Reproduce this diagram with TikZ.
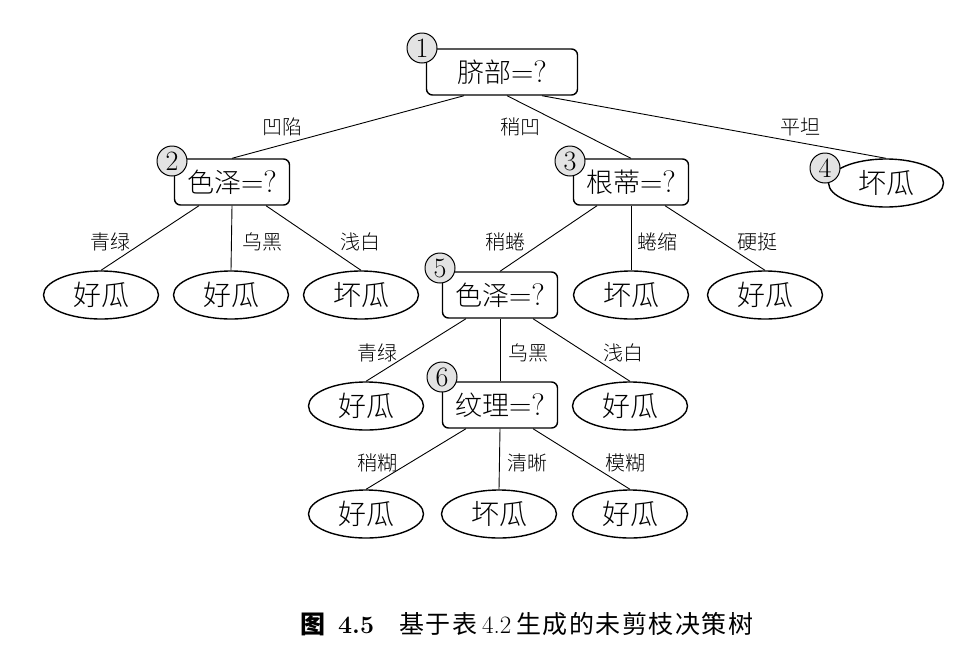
\documentclass[tikz,border=0pt]{standalone}
\usepackage{fontspec}
\IfFontExistsTF{Noto Sans CJK SC Light}
  {\newfontfamily\cjk{Noto Sans CJK SC Light}}
  {\newfontfamily\cjk{Noto Sans CJK SC}}
\newfontfamily\cjkreg{Noto Sans CJK SC}
\newfontfamily\cjkcap[LetterSpace=6]{Noto Sans CJK SC}
\usetikzlibrary{shapes.geometric}
\newcommand\eqq{{\fontsize{31}{31}\selectfont=?}}
\tikzset{
  testbox/.style={draw, line width=1.4pt, rounded corners=6pt, minimum width=115pt, minimum height=46pt, inner sep=0pt, font=\fontsize{27}{27}\selectfont},
  leaf/.style={draw, ellipse, line width=1.4pt, minimum width=115pt, minimum height=48pt, inner sep=0pt, font=\fontsize{28}{28}\selectfont\cjk},
  num/.style={circle, draw, fill=gray!22, line width=1pt, minimum size=30pt, inner sep=0pt, font=\fontsize{28}{28}\selectfont},
  edge/.style={line width=0.9pt},
  lbl/.style={font=\fontsize{20}{20}\selectfont\cjk, inner sep=0pt},
}
\begin{document}
\begin{tikzpicture}[x=1pt, y=-1pt]
\useasboundingbox (0,0) rectangle (957,667);
% nodes
\node[testbox, minimum width=151pt] (root) at (502,72) {{\cjk 脐部}\eqq};
\node[testbox] (b2) at (232,182) {{\cjk 色泽}\eqq};
\node[testbox] (b3) at (631,182) {{\cjk 根蒂}\eqq};
\node[leaf] (l4) at (886,183) {坏瓜};
\node[leaf] (l21) at (101,295) {好瓜};
\node[leaf] (l22) at (231,295) {好瓜};
\node[leaf] (l23) at (361,295) {坏瓜};
\node[testbox] (b5) at (500,295) {{\cjk 色泽}\eqq};
\node[leaf] (l31) at (631,295) {坏瓜};
\node[leaf] (l32) at (765,295) {好瓜};
\node[leaf] (l51) at (366,406) {好瓜};
\node[testbox] (b6) at (500,405) {{\cjk 纹理}\eqq};
\node[leaf] (l53) at (630,406) {好瓜};
\node[leaf] (l61) at (366,514) {好瓜};
\node[leaf] (l62) at (499,514) {坏瓜};
\node[leaf] (l63) at (630,514) {好瓜};
% number circles
\node[num] (n1) at (422,48) {1};
\node[num] (n2) at (172,161) {2};
\node[num] (n3) at (570,161) {3};
\node[num] (n4) at (825,168) {4};
\node[num] (n5) at (440,268) {5};
\node[num] (n6) at (442,377) {6};
% edges
\draw[edge] ([xshift=-38pt]root.south) -- (b2.north);
\draw[edge] ([xshift=5pt]root.south) -- (b3.north);
\draw[edge] ([xshift=40pt]root.south) -- (l4.north);
\draw[edge] ([xshift=-33pt]b2.south) -- (l21.north);
\draw[edge] (b2.south) -- (l22.north);
\draw[edge] ([xshift=34pt]b2.south) -- (l23.north);
\draw[edge] ([xshift=-34pt]b3.south) -- (b5.north);
\draw[edge] (b3.south) -- (l31.north);
\draw[edge] ([xshift=34pt]b3.south) -- (l32.north);
\draw[edge] ([xshift=-34pt]b5.south) -- (l51.north);
\draw[edge] (b5.south) -- (b6.north);
\draw[edge] ([xshift=33pt]b5.south) -- (l53.north);
\draw[edge] ([xshift=-34pt]b6.south) -- (l61.north);
\draw[edge] (b6.south) -- (l62.north);
\draw[edge] ([xshift=33pt]b6.south) -- (l63.north);
% labels
\node[lbl] (e1) at (282,127) {凹陷};
\node[lbl] (e2) at (520,127) {稍凹};
\node[lbl] (e3) at (800,127) {平坦};
\node[lbl] (e4) at (110,242) {青绿};
\node[lbl] (e5) at (262,242) {乌黑};
\node[lbl] (e6) at (360,242) {浅白};
\node[lbl] (e7) at (505,242) {稍蜷};
\node[lbl] (e8) at (657,242) {蜷缩};
\node[lbl] (e9) at (757,242) {硬挺};
\node[lbl] (e10) at (377,353) {青绿};
\node[lbl] (e11) at (528,353) {乌黑};
\node[lbl] (e12) at (623,353) {浅白};
\node[lbl] (e13) at (377,463) {稍糊};
\node[lbl] (e14) at (527,463) {清晰};
\node[lbl] (e15) at (625,463) {模糊};
% caption
\node[font=\fontsize{25}{25}\selectfont, inner sep=0pt] (cap) at (527,624) {{\cjkreg\bfseries 图}\hspace{0.5em}\textbf{4.5}\hspace{1em}{\cjkcap 基于表}\hspace{0.2em}4.2\hspace{0.2em}{\cjkcap 生成的未剪枝决策树}};
\end{tikzpicture}
\end{document}
